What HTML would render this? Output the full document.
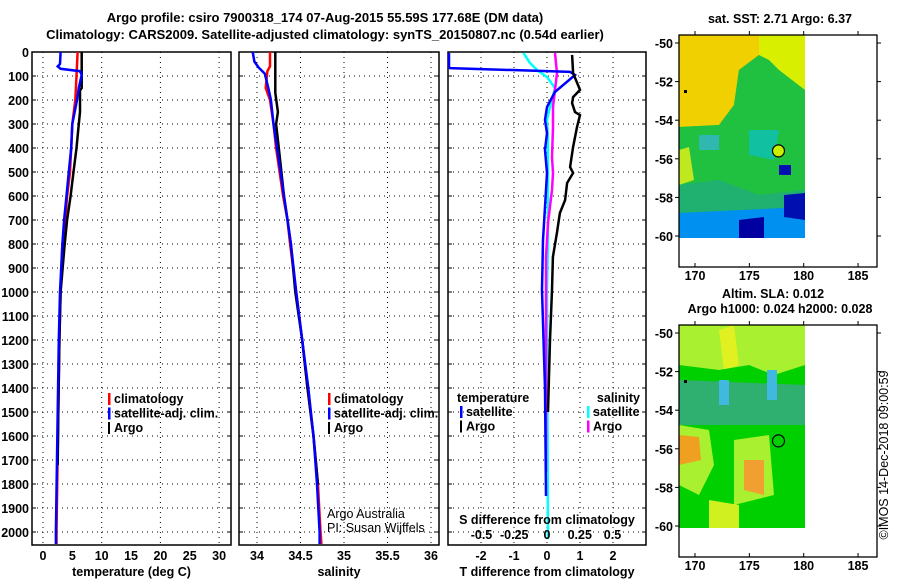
<!DOCTYPE html>
<html><head><meta charset="utf-8"><style>
html,body{margin:0;padding:0;background:#fff}
svg{display:block;font-family:"Liberation Sans",sans-serif}
.b{font-weight:bold;font-size:12.5px}
.t{font-weight:bold;font-size:13px}
.g{stroke:#000;stroke-width:1;stroke-dasharray:1 4}
</style></head><body>
<svg id="c" width="900" height="580" viewBox="0 0 900 580" xmlns="http://www.w3.org/2000/svg">
<text class="t" x="325" y="22" text-anchor="middle">Argo profile: csiro 7900318_174 07-Aug-2015 55.59S 177.68E (DM data)</text>
<text class="t" x="325" y="39" text-anchor="middle">Climatology: CARS2009. Satellite-adjusted climatology: synTS_20150807.nc (0.54d earlier)</text>
<g id="p1"></g>
<g id="p2"></g>
<g id="p3"></g>
<g id="m1"></g>
<g id="m2"></g>
<text class="b" transform="translate(888,455) rotate(-90)" text-anchor="middle" style="font-weight:normal">©IMOS 14-Dec-2018 09:00:59</text>
</svg>
<script>
// ---- data ----
const depthTicks=[0,100,200,300,400,500,600,700,800,900,1000,1100,1200,1300,1400,1500,1600,1700,1800,1900,2000];
const tTicks=[0,5,10,15,20,25,30];
const sTicks=[34,34.5,35,35.5,36];
const tdTicks=[-2,-1,0,1,2];
const sdTicks=[-0.5,-0.25,0,0.25,0.5];
const sdTickLabels=["-0.5","-0.25","0","0.25","0.5"];
const tClimDepth=[0,100,200,300,400,500,600,700,800,1000,1200,1500,2000,2050];
const tClimVal=[5.9,5.7,5.5,5.0,4.8,4.6,4.1,3.8,3.3,3.0,2.8,2.6,2.3,2.3];
const tArgoDepth=[0,150,160,250,300,400,500,600,700,800,1000,1200,1500,1720];
const tArgoVal=[6.6,6.6,6.3,6.3,6.1,5.7,5.2,4.7,4.1,3.7,3.0,2.8,2.6,2.5];
const tSatDepth=[0,50,60,70,80,95,150,200,300,400,500,600,700,800,1000,1200,1500,2000,2050];
const tSatVal=[3.0,2.9,2.5,3.0,6.3,6.6,6.1,5.8,5.0,4.8,4.4,4.0,3.6,3.3,2.9,2.7,2.5,2.2,2.2];
const sClimDepth=[0,60,80,150,200,300,400,500,600,700,800,1000,1200,1400,1600,1800,2000,2050];
const sClimVal=[34.15,34.15,34.12,34.10,34.15,34.19,34.22,34.26,34.30,34.35,34.38,34.45,34.52,34.58,34.65,34.70,34.73,34.74];
const sArgoDepth=[0,160,170,250,300,400,500,600,700,800,1000,1200,1400,1600,1800];
const sArgoVal=[34.21,34.21,34.21,34.24,34.22,34.25,34.28,34.31,34.35,34.39,34.44,34.52,34.58,34.65,34.70];
const sSatDepth=[0,40,65,90,150,200,300,400,500,600,700,800,1000,1200,1400,1600,1800,2000,2050];
const sSatVal=[33.95,33.97,34.02,34.09,34.13,34.16,34.19,34.23,34.27,34.31,34.35,34.39,34.45,34.52,34.59,34.65,34.69,34.72,34.72];
const dTArgoDepth=[12,88,158,188,213,250,263,313,396,479,504,546,617,671,754,854,992,1200,1500];
const dTArgoVal=[0.76,0.79,1.0,0.79,0.76,0.85,1.0,0.91,0.79,0.70,0.79,0.61,0.55,0.39,0.30,0.18,0.15,0.09,0.03];
const dTSatDepth=[4,62,67,83,96,167,229,283,338,408,504,646,783,992,1400,1850];
const dTSatVal=[-2.97,-2.97,-2.94,0.70,0.85,0.24,0,-0.06,0,-0.06,0,-0.06,-0.12,-0.15,-0.06,-0.03];
const dSSatDepth=[4,46,75,104,150,229,283,367,504,783,992,2030];
const dSSatVal=[-0.18,-0.13,-0.076,0,0.061,0.023,0,0.008,0.008,0.008,0,0.008];
const dSArgoDepth=[4,88,158,229,313,438,504,575,713,854,992,1750];
const dSArgoVal=[0.061,0.076,0.061,0.046,0.046,0.038,0.046,0.038,0.008,-0.008,-0.008,-0.008];
const lonTicks=[170,175,180,185];
const latTicks=[-50,-52,-54,-56,-58,-60];
const floatLon=177.68, floatLat=-55.59;

const NS="http://www.w3.org/2000/svg";
function mk(p,tag,a,txt){const e=document.createElementNS(NS,tag);for(const k in a)e.setAttribute(k,a[k]);if(txt!==undefined)e.textContent=txt;p.appendChild(e);return e;}
const Y=d=>52+0.24*d, TOP=52, BOT=545;

function panel(g,x0,x1,X,vt,lab,title){
  for(const d of depthTicks){ if(d>0){const l=mk(g,'line',{x1:x0,x2:x1,y1:Y(d),y2:Y(d),class:'g'});

}
    mk(g,'line',{x1:x0,x2:x0+4,y1:Y(d),y2:Y(d),stroke:'#000'});mk(g,'line',{x1:x1-4,x2:x1,y1:Y(d),y2:Y(d),stroke:'#000'});
    if(x0<40){const t=mk(g,'text',{x:29,y:Y(d)+5,class:'b','text-anchor':'end'},String(d));

}}
  vt.forEach(v=>{const l=mk(g,'line',{x1:X(v),x2:X(v),y1:TOP,y2:BOT,class:'g'});

});
  lab.forEach(v=>{const t=mk(g,'text',{x:X(v),y:560,class:'b','text-anchor':'middle'},String(v));

});
  const r=mk(g,'rect',{x:x0,y:TOP,width:x1-x0,height:BOT-TOP,fill:'none',stroke:'#000','stroke-width':1.5});


  const t=mk(g,'text',{x:(x0+x1)/2,y:576,class:'b','text-anchor':'middle'},title);


}
function line(g,X,ds,vs,col,w,name){
  const pts=ds.map((d,i)=>X(vs[i]).toFixed(1)+','+Y(d).toFixed(1)).join(' ');
  const p=mk(g,'polyline',{points:pts,fill:'none',stroke:col,'stroke-width':w});
  
  
}
function legend(g,x,y,items){
  items.forEach((it,i)=>{mk(g,'rect',{x:x,y:y+i*14.5-10,width:it[2]||2.5,height:12,fill:it[1]});
    const t=mk(g,'text',{x:x+6,y:y+i*14.5,class:'b'},it[0]);
    
    });
}
// panel 1
const p1=document.getElementById('p1'); const X1=v=>43+5.87*v;
panel(p1,32,231,X1,[0,10,20,30],tTicks,'temperature (deg C)');
line(p1,X1,tClimDepth,tClimVal,'#f00',2.5,'temp-climatology-line');
line(p1,X1,tArgoDepth,tArgoVal,'#000',2.5,'temp-argo-line');
line(p1,X1,tSatDepth,tSatVal,'#00f',2.5,'temp-satellite-line');
legend(p1,108,403,[['climatology','#f00'],['satellite-adj. clim.','#00f'],['Argo','#000',2]]);
// panel 2
const p2=document.getElementById('p2'); const X2=v=>257+87*(v-34);
panel(p2,239,439,X2,sTicks,sTicks,'salinity');
line(p2,X2,sClimDepth,sClimVal,'#f00',2.5,'sal-climatology-line');
line(p2,X2,sArgoDepth,sArgoVal,'#000',2.5,'sal-argo-line');
line(p2,X2,sSatDepth,sSatVal,'#00f',2.5,'sal-satellite-line');
legend(p2,328,403,[['climatology','#f00'],['satellite-adj. clim.','#00f'],['Argo','#000',2]]);
mk(p2,'text',{x:327,y:518,'font-size':12.5},'Argo Australia');
mk(p2,'text',{x:327,y:532,'font-size':12.5},'PI: Susan Wijffels');
// panel 3
const p3=document.getElementById('p3'); const XT=v=>547+33*v, XS=v=>547+131*v;
panel(p3,448,646,XT,tdTicks,tdTicks,'T difference from climatology');
line(p3,XS,dSSatDepth,dSSatVal,'#0ff',2.5,'sdiff-satellite-line');
line(p3,XS,dSArgoDepth,dSArgoVal,'#f0f',2.5,'sdiff-argo-line');
line(p3,XT,dTSatDepth,dTSatVal,'#00f',2.5,'tdiff-satellite-line');
line(p3,XT,dTArgoDepth,dTArgoVal,'#000',2.5,'tdiff-argo-line');
mk(p3,'text',{x:457,y:402,class:'b'},'temperature');
legend(p3,460,416,[['satellite','#00f'],['Argo','#000',2]]);
mk(p3,'text',{x:640,y:402,class:'b','text-anchor':'end'},'salinity');
legend(p3,587,416,[['satellite','#0ff'],['Argo','#f0f']]);
mk(p3,'text',{x:547,y:524,class:'b','text-anchor':'middle'},'S difference from climatology');
sdTicks.forEach((v,i)=>{const t=mk(p3,'text',{x:XS(v),y:539,class:'b','text-anchor':'middle'},sdTickLabels[i]);

});

// maps
const LX=l=>695+10.87*(l-170);
function map(g,y0,latY,titles,blobs,base){
  const img=mk(g,'rect',{x:679,y:y0,width:126,height:203,fill:base});
  
  
  const cl=mk(g,'g',{});
  blobs.forEach(b=>{const e=mk(cl,'polygon',{points:b[1].map(p=>(679+p[0])+','+(y0+p[1])).join(' '),fill:b[0]});});
  const fr=mk(g,'rect',{x:679,y:y0,width:198,height:232,fill:'none',stroke:'#000','stroke-width':1.3});
  
  
  lonTicks.forEach(l=>{mk(g,'line',{x1:LX(l),x2:LX(l),y1:y0,y2:y0-4,stroke:'#000'});mk(g,'line',{x1:LX(l),x2:LX(l),y1:y0+232,y2:y0+228,stroke:'#000'});
    const t=mk(g,'text',{x:LX(l),y:y0+245,class:'b','text-anchor':'middle'},String(l));
    
    });
  latTicks.forEach(a=>{const y=latY(a);mk(g,'line',{x1:877,x2:881,y1:y,y2:y,stroke:'#000'});mk(g,'line',{x1:679,x2:675,y1:y,y2:y,stroke:'#000'});
    const t=mk(g,'text',{x:673,y:y+5,class:'b','text-anchor':'end'},String(a));
    
    });
  titles.forEach((s,i)=>{const t=mk(g,'text',{x:titles.length>1&&i==0?773:780,y:y0-(titles.length-i-1)*15-12,class:'b','text-anchor':'middle'},s);
    
    });
  const c=mk(g,'circle',{cx:LX(floatLon),cy:latY(floatLat),r:6,fill:g.id=='m1'?'#c8f000':'none',stroke:'#000','stroke-width':1.2});
  
  
  mk(g,'rect',{x:684,y:y0+55,width:3,height:3,fill:'#000'});
}
const LY1=a=>43+19.3*(-50-a), LY2=a=>333+19.3*(-50-a);
map(document.getElementById('m1'),35,LY1,['sat. SST: 2.71 Argo: 6.37'],[
 ['#f0d000',[[0,0],[80,0],[80,20],[60,35],[55,70],[40,90],[0,92]]],
 ['#d8f000',[[80,0],[126,0],[126,55],[105,40],[90,25],[80,20]]],
 ['#20c040',[[80,20],[100,35],[126,55],[126,203],[0,203],[0,92],[40,90],[55,70],[60,35]]],
 ['#c0e820',[[0,115],[10,112],[15,145],[0,150]]],
 ['#20b070',[[0,150],[40,145],[80,160],[126,155],[126,185],[0,185]]],
 ['#10c0a0',[[70,95],[100,95],[95,125],[70,120]]],
 ['#30b8b0',[[20,100],[40,100],[40,115],[20,115]]],
 ['#0090f0',[[0,178],[126,172],[126,203],[0,203]]],
 ['#0010b0',[[105,160],[126,158],[126,185],[105,182]]],
 ['#0010b0',[[100,130],[112,130],[112,140],[100,140]]],
 ['#0000a0',[[60,185],[85,182],[85,203],[60,203]]]
],'#20c040');
map(document.getElementById('m2'),325,LY2,['Altim. SLA: 0.012','Argo h1000: 0.024 h2000: 0.028'],[
 ['#a8f030',[[0,0],[126,0],[126,40],[95,50],[70,40],[40,45],[0,40]]],
 ['#e0f020',[[40,5],[55,0],[60,40],[45,45]]],
 ['#00d000',[[0,40],[40,45],[70,40],[95,50],[126,40],[126,203],[0,203]]],
 ['#30b070',[[0,55],[126,60],[126,100],[0,100]]],
 ['#a8f030',[[0,100],[30,105],[35,140],[20,170],[0,160]]],
 ['#f0a020',[[0,110],[20,112],[22,135],[0,140]]],
 ['#a8f030',[[55,115],[90,110],[95,170],[55,180]]],
 ['#f0a030',[[65,135],[85,135],[85,170],[65,165]]],
 ['#d0f020',[[30,175],[60,180],[60,203],[30,203]]],
 ['#40b8e0',[[40,55],[50,55],[50,80],[40,80]]],
 ['#40b8e0',[[88,45],[98,45],[98,75],[88,75]]]
],'#a8f030');
</script>
</body></html>
